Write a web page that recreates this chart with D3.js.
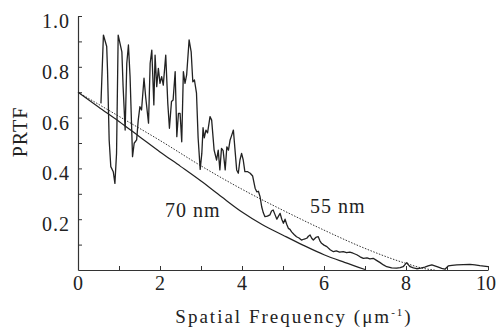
<!DOCTYPE html>
<html>
<head>
<meta charset="utf-8">
<script src="https://cdn.jsdelivr.net/npm/d3@7"></script>
<style>
  body { margin: 0; background: #fff; }
</style>
</head>
<body>
<div id="chart"></div>
<script>
// --- data ---
const xTicks = [0, 2, 4, 6, 8, 10];
const yTicks = [0.2, 0.4, 0.6, 0.8, 1.0];

// measured PRTF (noisy curve)
const prtf = [
  [0.56, 0.656], [0.62, 0.925], [0.70, 0.88], [0.72, 0.787], [0.76, 0.512], [0.80, 0.407],
  [0.86, 0.387], [0.90, 0.341], [0.94, 0.459], [0.98, 0.925], [1.07, 0.859], [1.10, 0.722],
  [1.15, 0.551], [1.19, 0.814], [1.23, 0.886], [1.27, 0.761], [1.31, 0.551], [1.33, 0.446],
  [1.37, 0.499], [1.43, 0.512], [1.47, 0.591], [1.51, 0.643], [1.55, 0.63], [1.61, 0.755],
  [1.65, 0.682], [1.72, 0.578], [1.76, 0.814], [1.80, 0.866], [1.85, 0.65], [1.88, 0.846],
  [1.92, 0.722], [1.96, 0.794], [2.00, 0.735], [2.04, 0.761], [2.08, 0.728], [2.14, 0.846],
  [2.19, 0.656], [2.23, 0.558], [2.28, 0.663], [2.32, 0.669], [2.37, 0.781], [2.41, 0.525],
  [2.45, 0.617], [2.49, 0.617], [2.53, 0.505], [2.57, 0.781], [2.61, 0.735], [2.65, 0.768],
  [2.71, 0.906], [2.76, 0.859], [2.80, 0.741], [2.84, 0.748], [2.89, 0.696], [2.93, 0.52],
  [2.98, 0.396], [3.02, 0.459], [3.05, 0.56], [3.08, 0.52], [3.12, 0.551], [3.16, 0.54],
  [3.22, 0.604], [3.26, 0.59], [3.32, 0.472], [3.38, 0.433], [3.42, 0.472], [3.46, 0.394],
  [3.50, 0.479], [3.54, 0.47], [3.59, 0.394], [3.63, 0.485], [3.67, 0.472], [3.71, 0.512],
  [3.75, 0.531], [3.79, 0.551], [3.83, 0.472], [3.87, 0.394], [3.91, 0.381], [3.95, 0.433],
  [3.99, 0.459], [4.03, 0.433], [4.07, 0.387], [4.14, 0.387], [4.20, 0.381], [4.26, 0.37],
  [4.32, 0.322], [4.36, 0.308], [4.40, 0.31], [4.44, 0.289], [4.48, 0.249], [4.52, 0.225],
  [4.56, 0.21], [4.62, 0.212], [4.68, 0.217], [4.72, 0.232], [4.76, 0.236], [4.80, 0.22],
  [4.85, 0.2], [4.89, 0.212], [4.93, 0.223], [4.97, 0.2], [5.01, 0.184], [5.05, 0.2],
  [5.09, 0.18], [5.13, 0.164], [5.17, 0.16], [5.21, 0.15], [5.27, 0.14], [5.33, 0.131],
  [5.39, 0.126], [5.45, 0.118], [5.52, 0.122], [5.58, 0.125], [5.62, 0.133], [5.66, 0.138],
  [5.70, 0.125], [5.74, 0.118], [5.80, 0.128], [5.86, 0.131], [5.90, 0.115], [5.94, 0.105],
  [6.00, 0.098], [6.07, 0.092], [6.15, 0.08], [6.23, 0.072], [6.30, 0.075], [6.38, 0.07],
  [6.47, 0.072], [6.55, 0.068], [6.63, 0.07], [6.71, 0.066], [6.80, 0.06], [6.88, 0.052],
  [6.96, 0.046], [7.05, 0.048], [7.12, 0.044], [7.20, 0.046], [7.28, 0.038], [7.37, 0.029],
  [7.45, 0.02], [7.53, 0.013], [7.65, 0.008], [7.77, 0.007], [7.86, 0.009], [7.93, 0.013],
  [7.98, 0.022], [8.02, 0.029], [8.06, 0.02], [8.10, 0.013], [8.18, 0.008], [8.26, 0.005],
  [8.36, 0.007], [8.46, 0.011], [8.54, 0.016], [8.63, 0.02], [8.72, 0.015], [8.79, 0.011],
  [8.87, 0.006], [8.95, 0.003], [9.03, 0.016], [9.12, 0.018], [9.24, 0.02], [9.40, 0.021],
  [9.56, 0.022], [9.68, 0.02], [9.80, 0.017], [9.90, 0.015], [10.0, 0.013]
];

// resolution model curves
const fit70 = [
  [0, 0.70], [0.5, 0.642], [1, 0.585], [1.5, 0.525], [2, 0.465], [2.5, 0.408], [3, 0.35],
  [3.5, 0.288], [4, 0.228], [4.5, 0.178], [5, 0.137], [5.5, 0.097], [6, 0.06], [6.5, 0.03],
  [7, 0.002]
];
const fit55 = [
  [0, 0.70], [1, 0.605], [2, 0.51], [3, 0.41], [4, 0.318], [5, 0.235], [6, 0.157],
  [7, 0.085], [8, 0.026], [8.5, 0.004], [8.7, 0.0]
];

const width = 496, height = 328;
const margin = { left: 78, right: 8, top: 16, bottom: 58 };
const FONT = "Liberation Serif";

const svg = d3.select("#chart").append("svg")
  .attr("width", width)
  .attr("height", height);

// --- Scales ---
const x = d3.scaleLinear().domain([0, 10]).range([margin.left, width - margin.right]);
const y = d3.scaleLinear().domain([0, 1]).range([height - margin.bottom, margin.top]);

// --- Axes (ticks point inward, labels only on every other tick) ---
const xAxis = svg.append("g")
  .attr("transform", `translate(0, ${y(0)})`)
  .call(d3.axisBottom(x).tickValues(d3.range(0, 11, 1)).tickSizeInner(-4).tickSizeOuter(0).tickFormat(""));
const yAxis = svg.append("g")
  .attr("transform", `translate(${x(0)}, 0)`)
  .call(d3.axisLeft(y).tickValues(d3.range(1, 11).map(d => d / 10)).tickSizeInner(-4).tickSizeOuter(0).tickFormat(""));

[xAxis, yAxis].forEach(g => {
  g.select(".domain").attr("stroke", "#333").attr("stroke-width", 1.2);
  g.selectAll(".tick line").attr("stroke", "#333").attr("stroke-width", 1);
});

svg.append("g").selectAll("text")
  .data(xTicks)
  .join("text")
  .attr("x", d => d === 10 ? x(d) - 2 : x(d))
  .attr("y", y(0) + 20)
  .attr("text-anchor", "middle")
  .attr("font-family", FONT)
  .attr("font-size", 20)
  .attr("fill", "#222")
  .text(d => d);

svg.append("g").selectAll("text")
  .data(yTicks)
  .join("text")
  .attr("x", x(0) - 8)
  .attr("y", d => y(d) + 12)
  .attr("text-anchor", "end")
  .attr("font-family", FONT)
  .attr("font-size", 20)
  .attr("letter-spacing", 1)
  .attr("fill", "#222")
  .text(d => d.toFixed(1));

// axis titles
const xt = svg.append("text")
  .attr("x", 294)
  .attr("y", 323)
  .attr("text-anchor", "middle")
  .attr("font-family", FONT)
  .attr("font-size", 19)
  .attr("letter-spacing", 2)
  .attr("fill", "#222")
  .text("Spatial Frequency (μm");
xt.append("tspan").attr("dy", -7).attr("font-size", 11).text("-1");
xt.append("tspan").attr("dy", 7).text(")");

svg.append("text")
  .attr("transform", `translate(27, 132) rotate(-90)`)
  .attr("text-anchor", "middle")
  .attr("font-family", FONT)
  .attr("font-size", 20)
  .attr("letter-spacing", 1)
  .attr("fill", "#222")
  .text("PRTF");

// --- Lines ---
const line = d3.line().x(d => x(d[0])).y(d => y(d[1]));
const smooth = d3.line().x(d => x(d[0])).y(d => y(d[1])).curve(d3.curveMonotoneX);

svg.append("path")
  .datum(fit55)
  .attr("d", smooth)
  .attr("fill", "none")
  .attr("stroke", "#333")
  .attr("stroke-width", 1)
  .attr("stroke-dasharray", "1.5,1.5");

svg.append("path")
  .datum(fit70)
  .attr("d", smooth)
  .attr("fill", "none")
  .attr("stroke", "#222")
  .attr("stroke-width", 1.2);

svg.append("path")
  .datum(prtf)
  .attr("d", line)
  .attr("fill", "none")
  .attr("stroke", "#222")
  .attr("stroke-width", 1.3)
  .attr("stroke-linejoin", "round");

// curve annotations
svg.append("text").attr("x", 165).attr("y", 217)
  .attr("font-family", FONT).attr("font-size", 20).attr("letter-spacing", 1)
  .attr("fill", "#222").text("70 nm");
svg.append("text").attr("x", 310).attr("y", 213)
  .attr("font-family", FONT).attr("font-size", 20).attr("letter-spacing", 1)
  .attr("fill", "#222").text("55 nm");
</script>
</body>
</html>
